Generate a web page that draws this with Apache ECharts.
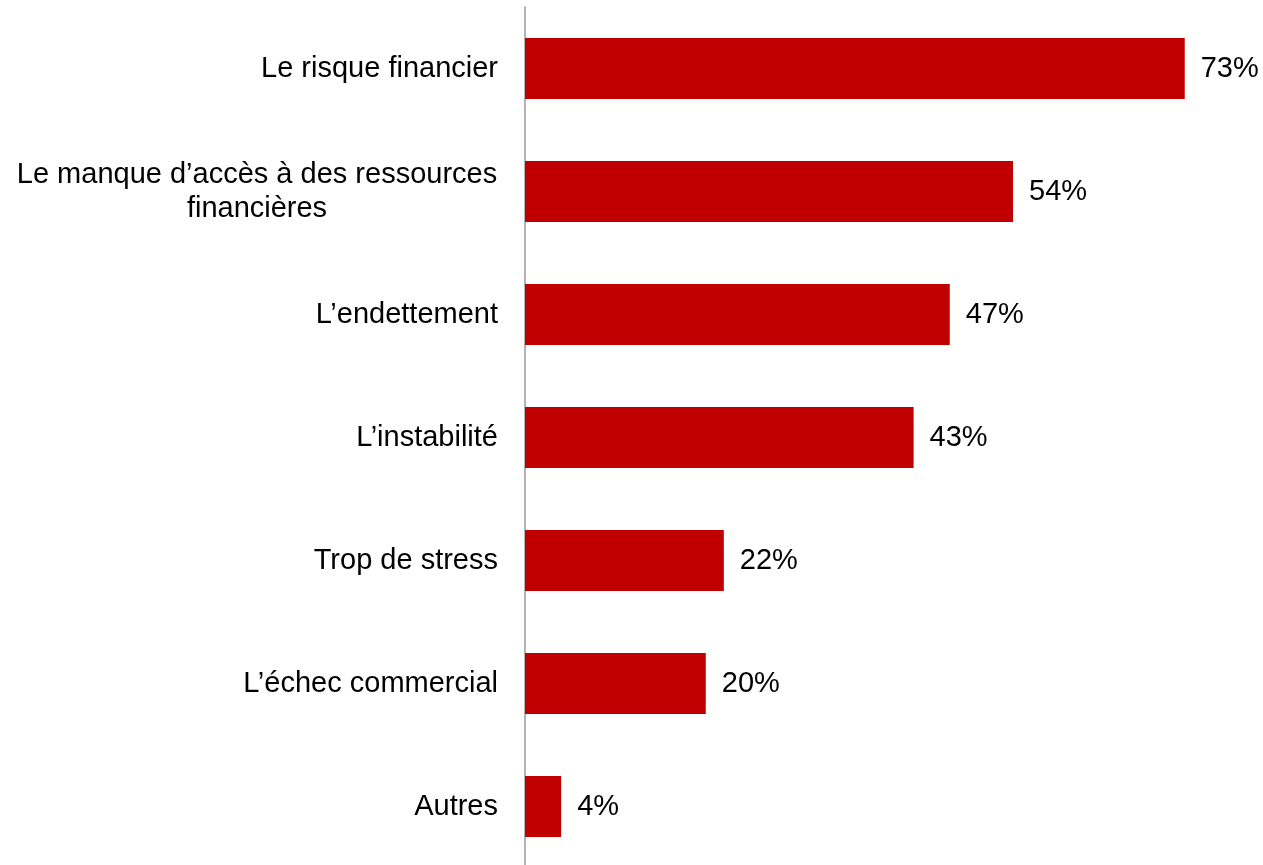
<!DOCTYPE html>
<html>
<head>
<meta charset="utf-8">
<script src="https://cdn.jsdelivr.net/npm/echarts@6/dist/echarts.min.js"></script>
<style>
html,body{margin:0;padding:0;background:#fff;overflow:hidden;}
#chart{width:1263px;height:868px;}
</style>
</head>
<body>
<div id="chart"></div>
<script>
const categories = [
  "Le risque financier",
  "Le manque d’accès à des ressources\nfinancières",
  "L’endettement",
  "L’instabilité",
  "Trop de stress",
  "L’échec commercial",
  "Autres"
];
const values = [73, 54, 47, 43, 22, 20, 4];

const FONT = "'Liberation Sans', Arial, sans-serif";
const chart = echarts.init(document.getElementById('chart'), null, {renderer: 'canvas'});
chart.setOption({
  animation: false,
  backgroundColor: '#ffffff',
  grid: {left: 525, right: 15, top: 7, bottom: 0, containLabel: false},
  xAxis: {
    type: 'value', min: 0, max: 80,
    show: false
  },
  yAxis: {
    type: 'category',
    data: categories,
    inverse: true,
    axisLine: {show: true, lineStyle: {color: '#a0a0a0', width: 1.6}},
    axisTick: {show: false},
    splitLine: {show: false},
    axisLabel: {
      margin: 27,
      color: '#000',
      fontSize: 29,
      fontFamily: FONT,
      lineHeight: 34,
      formatter: function (v) {
        if (v.indexOf('\n') >= 0) {
          return v.split('\n').map(function (l) { return '{c|' + l + '}'; }).join('\n');
        }
        return v;
      },
      rich: {
        c: {width: 482, align: 'center', fontSize: 29, fontFamily: FONT, color: '#000', lineHeight: 34}
      }
    }
  },
  series: [{
    type: 'bar',
    data: values,
    barWidth: 61,
    itemStyle: {color: '#c00000'},
    label: {
      show: true,
      position: 'right',
      distance: 16,
      formatter: '{c}%',
      color: '#000',
      fontSize: 29,
      fontFamily: FONT
    }
  }]
});
</script>
</body>
</html>
